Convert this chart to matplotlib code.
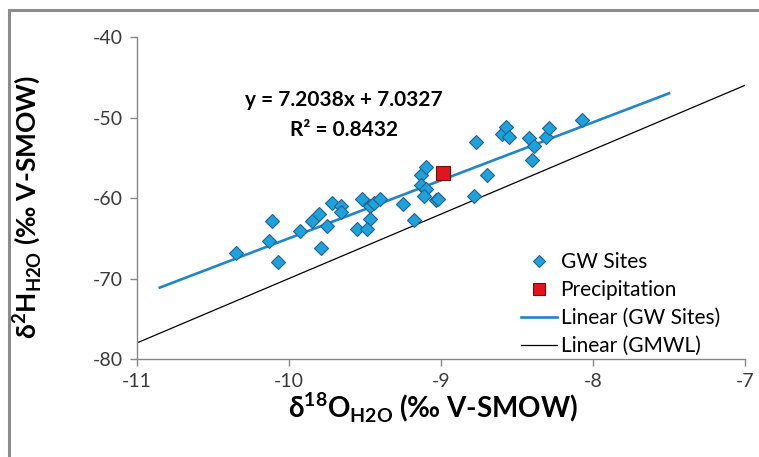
import matplotlib
matplotlib.use('Agg')
import matplotlib.pyplot as plt
from matplotlib.lines import Line2D
from matplotlib.patches import Rectangle
import numpy as np

# groundwater sites: d18O and d2H (permil V-SMOW)
gw_d18o = [-10.35, -10.11, -10.13, -10.07, -9.93, -9.85, -9.80, -9.79, -9.75,
           -9.72, -9.66, -9.66, -9.52, -9.47, -9.44, -9.40, -9.47, -9.55, -9.49,
           -9.25, -9.18, -9.13, -9.10, -9.13, -9.10, -9.11, -9.03, -9.02, -8.77,
           -8.70, -8.78, -8.60, -8.57, -8.55, -8.42, -8.39, -8.40, -8.31, -8.29,
           -8.07]
gw_d2h = [-66.8, -62.8, -65.3, -68.0, -64.1, -62.8, -62.0, -66.2, -63.5,
          -60.6, -61.05, -61.8, -60.1, -61.05, -60.6, -60.1, -62.6, -63.8, -63.8,
          -60.8, -62.7, -57.1, -56.1, -58.4, -58.9, -59.7, -60.3, -60.1, -53.1,
          -57.2, -59.7, -52.0, -51.2, -52.4, -52.6, -53.6, -55.3, -52.4, -51.3,
          -50.3]

# precipitation sample
precip_d18o = [-8.99]
precip_d2h = [-56.9]

# fitted line through GW sites and global meteoric water line
fit_slope, fit_intercept = 7.2038, 7.0327
fit_r2 = 0.8432
fit_range = [-10.85, -7.5]
gmwl_slope, gmwl_intercept = 8.0, 10.0
gmwl_range = [-11.0, -7.0]

x_ticks = [-11, -10, -9, -8, -7]
y_ticks = [-80, -70, -60, -50, -40]

plt.rcParams['font.family'] = ['Lato', 'DejaVu Sans']
plt.rcParams['axes.unicode_minus'] = False

W, H = 759, 457
left, right, top, bottom = 137, 745, 37, 359
fig = plt.figure(figsize=(W/100, H/100), dpi=100)
ax = fig.add_axes([left/W, 1 - bottom/H, (right-left)/W, (bottom-top)/H])

# outer chart border
fig.patches.append(Rectangle((9/W, -0.1), 1.2, 1 - 10/H + 0.1, transform=fig.transFigure,
                             fill=False, edgecolor='#8c8c8c', linewidth=2.2))

gx = np.array(gmwl_range)
ax.plot(gx, gmwl_slope*gx + gmwl_intercept, color='black', linewidth=0.9, zorder=2)
fx = np.array(fit_range)
ax.plot(fx, fit_slope*fx + fit_intercept, color='#1f86cc', linewidth=1.9, zorder=2)

ax.plot(gw_d18o, gw_d2h, linestyle='none', marker='D', markersize=7,
        markerfacecolor='#1aa3dd', markeredgecolor='#22628f', markeredgewidth=0.8, zorder=3)
ax.plot(precip_d18o, precip_d2h, linestyle='none', marker='s', markersize=9.5,
        markerfacecolor='#e5131b', markeredgecolor='#6e1010', markeredgewidth=0.8, zorder=4)

ax.text(-9.64, -47.8, f'y = {fit_slope:.4f}x + {fit_intercept:.4f}', ha='center', va='center',
        fontsize=15, fontweight='bold', color='black')
ax.text(-9.64, -51.6, f'R\u00b2 = {fit_r2:.4f}', ha='center', va='center',
        fontsize=15, fontweight='bold', color='black')

ax.set_xlim(-11, -7)
ax.set_ylim(-80, -40)
ax.set_xticks(x_ticks)
ax.set_yticks(y_ticks)
ax.tick_params(direction='out', length=5, width=1, color='#868686', labelsize=14,
               labelcolor='#3a3a3a', pad=5)
for side in ['top', 'right']:
    ax.spines[side].set_visible(False)
for side in ['left', 'bottom']:
    ax.spines[side].set_color('#868686')
    ax.spines[side].set_linewidth(1)

ax.set_xlabel('\u03b4$^{\\mathregular{18}}$O$_{\\mathregular{H2O}}$ (\u2030 V-SMOW)',
              fontsize=20, fontweight='bold')
ax.set_ylabel('\u03b4$^{\\mathregular{2}}$H$_{\\mathregular{H2O}}$ (\u2030 V-SMOW)',
              fontsize=19, fontweight='bold')
ax.xaxis.set_label_coords((433-left)/(right-left), -(390-bottom)/(bottom-top))
ax.yaxis.set_label_coords(-(left-44)/(right-left), (bottom-207)/(bottom-top))

handles = [
    Line2D([], [], linestyle='none', marker='D', markersize=6.5, markerfacecolor='#1aa3dd',
           markeredgecolor='#22628f', markeredgewidth=0.8),
    Line2D([], [], linestyle='none', marker='s', markersize=8.5, markerfacecolor='#e5131b',
           markeredgecolor='#6e1010', markeredgewidth=0.8),
    Line2D([], [], color='#1f86cc', linewidth=1.9),
    Line2D([], [], color='black', linewidth=0.9),
]
labels = ['GW Sites', 'Precipitation', 'Linear (GW Sites)', 'Linear (GMWL)']
ax.legend(handles, labels, loc='center left', bbox_to_anchor=(521/W, 1 - 304/H),
          bbox_transform=fig.transFigure, frameon=False, fontsize=15, handlelength=1.75,
          handletextpad=0.15, labelspacing=0.38, borderpad=0, borderaxespad=0)

fig.savefig('out.png', dpi=100)
